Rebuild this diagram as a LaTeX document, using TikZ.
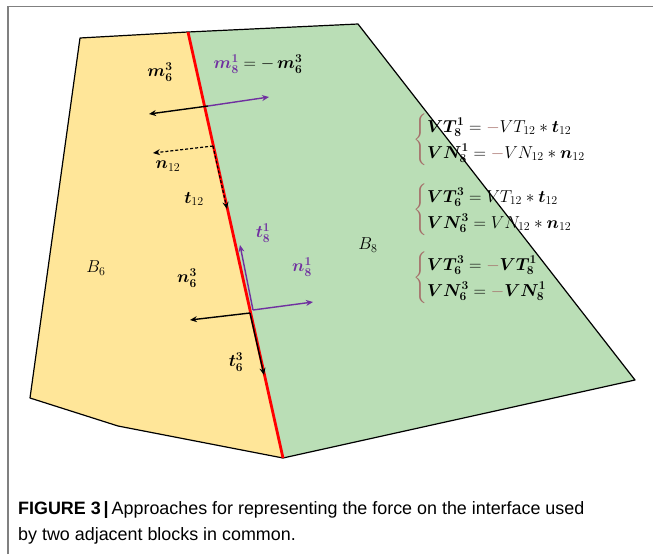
\documentclass[tikz,border=0pt]{standalone}
\usepackage{amsmath}
\usepackage{bm}
\usepackage{fontspec}
\newfontfamily\capfont{Liberation Sans}
\usetikzlibrary{arrows.meta}
\definecolor{yfill}{RGB}{255,230,153}
\definecolor{gfill}{RGB}{186,222,182}
\definecolor{purp}{RGB}{112,48,160}
\definecolor{bracec}{RGB}{165,110,105}
\definecolor{framec}{RGB}{128,128,128}
\tikzset{
  blk/.style={draw=black, line width=1.4pt, -{Stealth[length=7pt,width=6pt]}},
  pur/.style={draw=purp, line width=1.4pt, -{Stealth[length=7pt,width=6pt]}},
  dsh/.style={draw=black, line width=1.2pt, dashed, dash pattern=on 3pt off 2pt, -{Stealth[length=7pt,width=6pt]}},
  lbl/.style={inner sep=0pt, font=\fontsize{17}{20}\selectfont},
  eqn/.style={inner sep=0pt, anchor=west, font=\fontsize{17.5}{20}\selectfont},
  captxt/.style={inner sep=0pt, anchor=base west, font=\capfont\fontsize{17.9}{20}\selectfont}
}
\begin{document}
\begin{tikzpicture}[x=1pt,y=-1pt]
\useasboundingbox (0,0) rectangle (653,554);
% frame
\draw[framec, line width=1.5pt] (8,554) -- (8,6.5) -- (653,6.5);
% polygon corners
\coordinate (TL) at (80,38);
\coordinate (TM) at (188,32);
\coordinate (TR) at (358,24);
\coordinate (RR) at (635,380);
\coordinate (BM) at (283,458);
\coordinate (BL) at (30,398);
\coordinate (BK) at (118,426);
% yellow block B6
\fill[yfill] (TL) -- (TM) -- (BM) -- (BK) -- (BL) -- cycle;
% green block B8
\fill[gfill] (TM) -- (TR) -- (RR) -- (BM) -- cycle;
\draw[line width=1.2pt, line join=round] (TM) -- (TL) -- (BL) -- (BK) -- (BM) -- (RR) -- (TR) -- (TM);
% interface
\draw[red, line width=2.8pt] (TM) -- (BM);
% m arrows
\coordinate (M0) at (208,106);
\coordinate (M6) at (149,114);
\coordinate (M8) at (269,97);
\draw[pur] (M0) -- (M8);
\draw[blk] (M0) -- (M6);
% dashed n12, t12
\coordinate (D0) at (213,146);
\coordinate (DN) at (153,153);
\coordinate (DT) at (227,209);
\draw[dsh] (D0) -- (DN);
\draw[dsh] (D0) -- (DT);
% purple t8, n8
\coordinate (P0) at (253,310);
\coordinate (PT) at (240,245);
\coordinate (PN) at (313,302);
\draw[pur] (P0) -- (PT);
\draw[pur] (P0) -- (PN);
% black n6, t6
\coordinate (K0) at (250,313);
\coordinate (KN) at (190,320);
\coordinate (KT) at (264,375);
\draw[blk] (K0) -- (KN);
\draw[blk] (K0) -- (KT);
% labels
\node[lbl] (lm6) at (160,72) {$\bm{m_6^3}$};
\node[lbl] (lm8) at (258,64) {$\color{purp}\bm{m_8^1}\color{black} = -\,\bm{m_6^3}$};
\node[lbl] (ln12) at (168,166) {$\bm{n}_{12}$};
\node[lbl] (lt12) at (194,199) {$\bm{t}_{12}$};
\node[lbl] (lt8) at (263,233) {$\color{purp}\bm{t_8^1}$};
\node[lbl] (ln8) at (302,267) {$\color{purp}\bm{n_8^1}$};
\node[lbl] (lb6) at (96,268) {$B_6$};
\node[lbl] (ln6) at (187,278) {$\bm{n_6^3}$};
\node[lbl] (lt6) at (236,362) {$\bm{t_6^3}$};
\node[lbl] (lb8) at (368,245) {$B_8$};
% equations
\node[eqn] (eq1) at (413,140) {$\def\arraystretch{1.3}\color{bracec}\left\{\color{black}\begin{array}{@{}l@{}}
 \bm{VT_8^1} = {\color{bracec}-}VT_{12} \ast \bm{t}_{12}\\
 \bm{VN_8^1} = {\color{bracec}-}VN_{12} \ast \bm{n}_{12}
\end{array}\right.$};
\node[eqn] (eq2) at (413,210) {$\def\arraystretch{1.3}\color{bracec}\left\{\color{black}\begin{array}{@{}l@{}}
 \bm{VT_6^3} = VT_{12} \ast \bm{t}_{12}\\
 \bm{VN_6^3} = VN_{12} \ast \bm{n}_{12}
\end{array}\right.$};
\node[eqn] (eq3) at (413,278) {$\def\arraystretch{1.3}\color{bracec}\left\{\color{black}\begin{array}{@{}l@{}}
 \bm{VT_6^3} = {\color{bracec}-}\bm{VT_8^1}\\
 \bm{VN_6^3} = {\color{bracec}-}\bm{VN_8^1}
\end{array}\right.$};
% caption
\node[captxt] (cap1) at (18,514) {\textbf{FIGURE 3\,|}\,Approaches for representing the force on the interface used};
\node[captxt] (cap2) at (18,540) {by two adjacent blocks in common.};
\end{tikzpicture}
\end{document}
